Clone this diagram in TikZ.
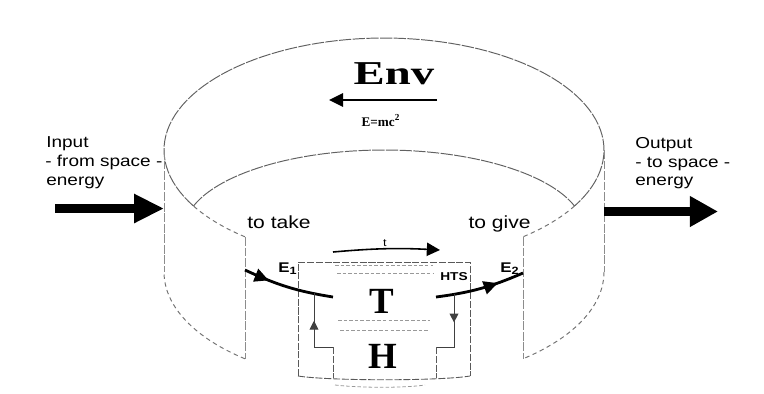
\documentclass[tikz,border=0pt]{standalone}
\usepackage{fontspec}
\setmainfont{Liberation Serif}
\newfontfamily\lsans[FakeStretch=1.2]{Liberation Sans}
\newfontfamily\envserif[FakeStretch=1.4]{Liberation Serif}
\usetikzlibrary{arrows.meta,decorations.markings}
\begin{document}
\begin{tikzpicture}[x=0.02cm,y=-0.02cm,
  rim/.style={draw=black!62, line width=0.55pt, dash pattern=on 7pt off 0.8pt},
  rimdash/.style={draw=black!55, line width=0.55pt, dash pattern=on 2.5pt off 2pt},
  wall/.style={draw=black!45, line width=0.5pt, dash pattern=on 5pt off 1pt},
  faint/.style={draw=black!40, line width=0.45pt, dash pattern=on 2pt off 1.2pt},
  frame/.style={draw=black!65, line width=0.5pt, dash pattern=on 4pt off 1pt},
  bigarrow/.style={line width=5pt, -{Triangle[length=17pt,width=15.5pt]}},
  flow/.style={line width=1.6pt},
  lab/.style={font=\lsans\fontsize{9}{11}\selectfont, inner sep=0},
  midlab/.style={font=\lsans\fontsize{10}{12}\selectfont, inner sep=0},
  big/.style={font=\bfseries\fontsize{21}{24}\selectfont, inner sep=0}
]
\useasboundingbox (0,0) rectangle (764,393);

% ---------- ring (cut-open cylinder) ----------
% outer top rim, back part
\draw[rim] plot[domain=150:390, samples=90] ({384+220*cos(\x)},{150+112*sin(\x)});
% outer top rim, front parts (towards the cut)
\draw[rimdash] plot[domain=129.2:150, samples=15] ({384+220*cos(\x)},{150+112*sin(\x)});
\draw[rimdash] plot[domain=30:50.8, samples=15] ({384+220*cos(\x)},{150+112*sin(\x)});
% inner rim, back part
\draw[rim] plot[domain=197.7:342.3, samples=80] ({384+200*cos(\x)},{230.5+80.5*sin(\x)});
% outer walls
\coordinate (wl1) at (164,150); \coordinate (wl2) at (164,272);
\coordinate (wr1) at (604,150); \coordinate (wr2) at (604,272);
\draw[wall] (wl1) -- (wl2);
\draw[wall] (wr1) -- (wr2);
% bottom rim
\draw[rimdash] plot[domain=129.2:180, samples=25] ({384+220*cos(\x)},{272+112*sin(\x)});
\draw[rimdash] plot[domain=0:50.8, samples=25] ({384+220*cos(\x)},{272+112*sin(\x)});
% cut edges
\coordinate (cl1) at (245,237); \coordinate (cl2) at (245,359);
\coordinate (cr1) at (523,237); \coordinate (cr2) at (523,359);
\draw[wall] (cl1) -- (cl2);
\draw[wall] (cr1) -- (cr2);

% ---------- Env label ----------
\node[anchor=base, inner sep=0, font=\envserif\bfseries\fontsize{19}{22}\selectfont] (env) at (394,84) {Env};
\coordinate (envR) at (437,100);
\coordinate (envL) at (329,100);
\draw[line width=1.3pt, -{Triangle[length=8pt,width=7.5pt]}] (envR) -- (envL);
\node[anchor=base, inner sep=0, font=\bfseries\fontsize{7.5}{9}\selectfont] (emc) at (381,126) {E=mc\textsuperscript{2}};

% ---------- input / output ----------
\node[lab, anchor=base west] (in1) at (46,147) {Input};
\node[lab, anchor=base west] (in2) at (45,166) {- from space -};
\node[lab, anchor=base west] (in3) at (46,185) {energy};
\coordinate (inS) at (55,208.5);
\coordinate (inE) at (164,208.5);
\draw[bigarrow] (inS) -- (inE);

\node[lab, anchor=base west] (out1) at (635,148) {Output};
\node[lab, anchor=base west] (out2) at (635,167) {- to space -};
\node[lab, anchor=base west] (out3) at (635,185) {energy};
\coordinate (outS) at (604,211.5);
\coordinate (outE) at (718,211.5);
\draw[line width=5pt, -{Triangle[length=16pt,width=16.5pt]}] (outS) -- (outE);

% ---------- inside labels ----------
\node[midlab, anchor=base west] (take) at (247,228) {to take};
\node[midlab, anchor=base east] (give) at (531,228) {to give};

% ---------- HTS box ----------
\coordinate (f1) at (298,376); \coordinate (f2) at (298,262);
\coordinate (f3) at (470,262); \coordinate (f4) at (470,376);
\draw[frame] (f1) -- (f2) -- (f3) -- (f4);
\draw[frame] (f1) .. controls (330,381) and (440,381) .. (f4);
\draw[faint] (335,385) .. controls (360,388) and (405,388) .. (425,385);
\draw[faint] (335,265) -- (433,265);
\draw[faint] (337,273) -- (433,273);
\draw[faint] (338,320) -- (430,320);
\draw[faint] (340,330) -- (428,330);

\node[big, anchor=base] (T) at (382,313) {T};
\node[big, anchor=base] (H) at (383,368) {H};
\node[anchor=base, inner sep=0, font=\lsans\bfseries\fontsize{6.5}{8}\selectfont] (hts) at (454,280) {HTS};

% time arrow
\node[anchor=base, inner sep=0, font=\lsans\fontsize{6}{7}\selectfont] (tlab) at (385,246) {t};
\coordinate (tA) at (333,252);
\coordinate (tB) at (440,250);
\draw[line width=0.9pt, -{Triangle[length=7.5pt,width=7.5pt]}] (tA) to[bend left=4] (tB);

% E1 flow (in)
\coordinate (e1s) at (245,270);
\coordinate (e1e) at (333,297);
\draw[flow, postaction={decorate}, decoration={markings, mark=at position 0.28 with {\arrow{Triangle[length=8pt,width=7.5pt]}}}] (e1s) to[bend right=8] (e1e);
\node[anchor=base west, inner sep=0, font=\lsans\bfseries\fontsize{8}{9}\selectfont] (E1) at (278,272) {E\textsubscript{1}};

% E2 flow (out)
\coordinate (e2s) at (436,297);
\coordinate (e2e) at (523,273);
\draw[flow, postaction={decorate}, decoration={markings, mark=at position 0.7 with {\arrow{Triangle[length=8pt,width=7.5pt]}}}] (e2s) to[bend right=8] (e2e);
\node[anchor=base west, inner sep=0, font=\lsans\bfseries\fontsize{8}{9}\selectfont] (E2) at (500,272) {E\textsubscript{2}};

% feedback loops
\coordinate (lb) at (333,347); \coordinate (lc) at (314,347); \coordinate (lt) at (314,293);
\draw[line width=0.5pt, black!75, postaction={decorate}, decoration={markings, mark=at position 0.62 with {\arrow{Triangle[length=5pt,width=5pt]}}}] (lb) -- (lc) -- (lt);
\coordinate (rt) at (454,294); \coordinate (rc) at (454,347); \coordinate (rb) at (436,347);
\draw[line width=0.5pt, black!75, postaction={decorate}, decoration={markings, mark=at position 0.4 with {\arrow{Triangle[length=5pt,width=5pt]}}}] (rt) -- (rc) -- (rb);
\coordinate (pl) at (333,378); \coordinate (pr) at (436,378);
\draw[frame] (lb) -- (pl);
\draw[frame] (rb) -- (pr);
\end{tikzpicture}
\end{document}
